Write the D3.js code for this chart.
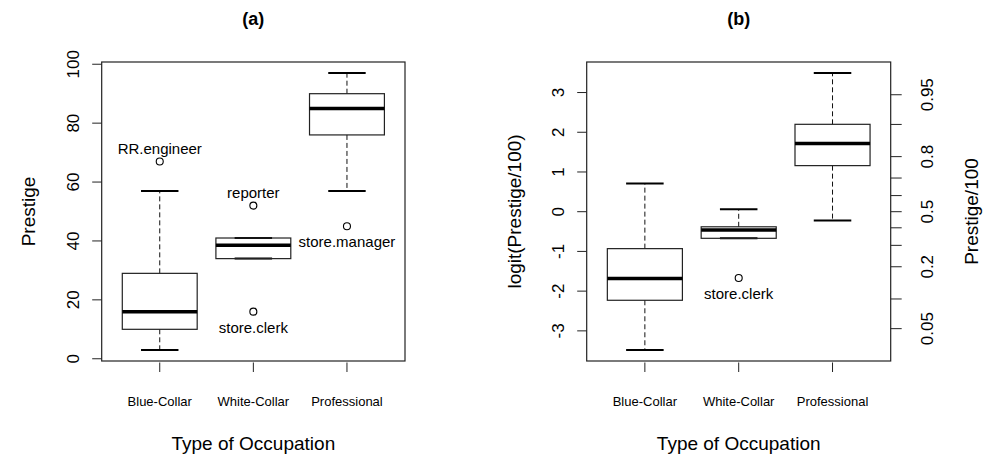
<!DOCTYPE html>
<html>
<head>
<meta charset="utf-8">
<script src="https://cdn.jsdelivr.net/npm/d3@7"></script>
<style>
  body { margin: 0; background: #fff; }
  text { font-family: "Liberation Sans", Arial, sans-serif; fill: #000; }
</style>
</head>
<body>
<svg id="chart"></svg>
<script>
var width = 993;
var height = 455;

var categories = ['Blue-Collar', 'White-Collar', 'Professional'];

// panel (a): Prestige
var prestigeLower = [3, 34, 57];
var prestigeQ1 = [10, 34, 76];
var prestigeMedian = [16, 38.5, 85];
var prestigeQ3 = [29, 41, 90];
var prestigeUpper = [57, 41, 97];
var prestigeOutliers = [
  {cat: 0, value: 67, label: 'RR.engineer', side: 'above'},
  {cat: 1, value: 52, label: 'reporter', side: 'above'},
  {cat: 1, value: 16, label: 'store.clerk', side: 'below'},
  {cat: 2, value: 45, label: 'store.manager', side: 'below'}
];
var prestigeTicks = [0, 20, 40, 60, 80, 100];

// panel (b): logit(Prestige/100)
var logitLower = [-3.48, -0.67, -0.22];
var logitQ1 = [-2.23, -0.67, 1.16];
var logitMedian = [-1.68, -0.46, 1.72];
var logitQ3 = [-0.93, -0.38, 2.20];
var logitUpper = [0.71, 0.06, 3.49];
var logitOutliers = [
  {cat: 1, value: -1.67, label: 'store.clerk', side: 'below'}
];
var logitTicks = [-3, -2, -1, 0, 1, 2, 3];
var probTicks = [0.05, 0.1, 0.2, 0.3, 0.4, 0.5, 0.6, 0.7, 0.8, 0.9, 0.95];
var probLabels = [0.05, 0.2, 0.5, 0.8, 0.95];

var boxwex = 0.8; // box width in category units
var staplewex = 0.4; // whisker cap width
var tickLen = 9.5;

var svg = d3.select('#chart')
  .attr('width', width)
  .attr('height', height);

function logit(p) { return Math.log(p / (1 - p)); }

function drawPanel(opt) {
  var g = svg.append('g');
  var all = opt.lower.concat(opt.upper, opt.outliers.map(function(d) { return d.value; }));
  var ext = d3.extent(all);
  var pad = (ext[1] - ext[0]) * 0.04;

  var x = d3.scaleLinear()
    .domain([0.38, 3.62])
    .range([opt.left, opt.left + opt.w]);
  var y = d3.scaleLinear()
    .domain([ext[0] - pad, ext[1] + pad])
    .range([opt.top + opt.h, opt.top]);

  var idx = d3.range(categories.length);
  var half = x(1 + boxwex / 2) - x(1);
  var shalf = x(1 + staplewex / 2) - x(1);

  // whiskers (dashed)
  g.selectAll('line.wlow')
    .data(idx).enter().append('line')
    .attr('x1', function(i) { return x(i + 1); })
    .attr('x2', function(i) { return x(i + 1); })
    .attr('y1', function(i) { return y(opt.q1[i]); })
    .attr('y2', function(i) { return y(opt.lower[i]); })
    .attr('stroke', '#111').attr('stroke-dasharray', '5,3');
  g.selectAll('line.whigh')
    .data(idx).enter().append('line')
    .attr('x1', function(i) { return x(i + 1); })
    .attr('x2', function(i) { return x(i + 1); })
    .attr('y1', function(i) { return y(opt.q3[i]); })
    .attr('y2', function(i) { return y(opt.upper[i]); })
    .attr('stroke', '#111').attr('stroke-dasharray', '5,3');

  // staples
  [opt.lower, opt.upper].forEach(function(arr) {
    g.selectAll(null)
      .data(idx).enter().append('line')
      .attr('x1', function(i) { return x(i + 1) - shalf; })
      .attr('x2', function(i) { return x(i + 1) + shalf; })
      .attr('y1', function(i) { return y(arr[i]); })
      .attr('y2', function(i) { return y(arr[i]); })
      .attr('stroke', '#000').attr('stroke-width', 2);
  });

  // boxes
  g.selectAll('rect.box')
    .data(idx).enter().append('rect')
    .attr('x', function(i) { return x(i + 1) - half; })
    .attr('width', half * 2)
    .attr('y', function(i) { return y(opt.q3[i]); })
    .attr('height', function(i) { return y(opt.q1[i]) - y(opt.q3[i]); })
    .attr('fill', 'none').attr('stroke', '#222').attr('stroke-width', 1.2);

  // medians
  g.selectAll('line.med')
    .data(idx).enter().append('line')
    .attr('x1', function(i) { return x(i + 1) - half; })
    .attr('x2', function(i) { return x(i + 1) + half; })
    .attr('y1', function(i) { return y(opt.median[i]); })
    .attr('y2', function(i) { return y(opt.median[i]); })
    .attr('stroke', '#000').attr('stroke-width', 3.5);

  // outliers
  g.selectAll('circle.out')
    .data(opt.outliers).enter().append('circle')
    .attr('cx', function(d) { return x(d.cat + 1); })
    .attr('cy', function(d) { return y(d.value); })
    .attr('r', 3.5)
    .attr('fill', 'none').attr('stroke', '#000').attr('stroke-width', 1.1);

  g.selectAll('text.outlab')
    .data(opt.outliers).enter().append('text')
    .attr('x', function(d) { return x(d.cat + 1); })
    .attr('y', function(d) { return y(d.value) + (d.side === 'above' ? -12.5 : 16); })
    .attr('dy', '0.35em')
    .attr('text-anchor', 'middle')
    .style('font-size', '15px')
    .text(function(d) { return d.label; });

  // frame
  g.append('rect')
    .attr('x', opt.left).attr('y', opt.top)
    .attr('width', opt.w).attr('height', opt.h)
    .attr('fill', 'none').attr('stroke', '#222').attr('stroke-width', 1.2);

  // left axis ticks
  var yt = g.append('g');
  yt.selectAll('line.t')
    .data(opt.ticks).enter().append('line')
    .attr('x1', opt.left - tickLen).attr('x2', opt.left)
    .attr('y1', function(d) { return y(d); })
    .attr('y2', function(d) { return y(d); })
    .attr('stroke', '#222');
  yt.selectAll('text')
    .data(opt.ticks).enter().append('text')
    .attr('transform', function(d) {
      return 'translate(' + (opt.left - 29) + ',' + y(d) + ') rotate(-90)';
    })
    .attr('dy', '0.35em')
    .attr('text-anchor', 'middle')
    .style('font-size', '17px')
    .text(function(d) { return d; });

  // bottom axis ticks
  var xt = g.append('g');
  xt.selectAll('line')
    .data(idx).enter().append('line')
    .attr('x1', function(i) { return x(i + 1); })
    .attr('x2', function(i) { return x(i + 1); })
    .attr('y1', opt.top + opt.h + 1.5)
    .attr('y2', opt.top + opt.h + 1.5 + tickLen)
    .attr('stroke', '#222');
  xt.selectAll('text')
    .data(idx).enter().append('text')
    .attr('x', function(i) { return x(i + 1); })
    .attr('y', 401)
    .attr('dy', '0.35em')
    .attr('text-anchor', 'middle')
    .style('font-size', '13px')
    .text(function(i) { return categories[i]; });

  var cx = opt.left + opt.w / 2;
  g.append('text')
    .attr('x', cx).attr('y', 19).attr('dy', '0.35em')
    .attr('text-anchor', 'middle')
    .style('font-size', '18px').style('font-weight', 'bold')
    .text(opt.title);
  g.append('text')
    .attr('x', cx).attr('y', 443).attr('dy', '0.35em')
    .attr('text-anchor', 'middle')
    .style('font-size', '19px')
    .text('Type of Occupation');
  g.append('text')
    .attr('transform', 'translate(' + opt.ylabX + ',' + (opt.top + opt.h / 2) + ') rotate(-90)')
    .attr('dy', '0.35em')
    .attr('text-anchor', 'middle')
    .style('font-size', '19px')
    .text(opt.ylab);

  return {x: x, y: y, g: g};
}

drawPanel({
  left: 101.7, top: 62, w: 303.3, h: 299,
  lower: prestigeLower, q1: prestigeQ1, median: prestigeMedian,
  q3: prestigeQ3, upper: prestigeUpper, outliers: prestigeOutliers,
  ticks: prestigeTicks, title: '(a)', ylab: 'Prestige', ylabX: 28
});

var pb = drawPanel({
  left: 586.7, top: 62, w: 304, h: 299,
  lower: logitLower, q1: logitQ1, median: logitMedian,
  q3: logitQ3, upper: logitUpper, outliers: logitOutliers,
  ticks: logitTicks, title: '(b)', ylab: 'logit(Prestige/100)', ylabX: 514
});

// right axis of panel (b): Prestige/100 on logit positions
var right = 586.7 + 304;
var ra = pb.g.append('g');
ra.selectAll('line.t')
  .data(probTicks).enter().append('line')
  .attr('x1', right).attr('x2', right + tickLen + 1.5)
  .attr('y1', function(d) { return pb.y(logit(d)); })
  .attr('y2', function(d) { return pb.y(logit(d)); })
  .attr('stroke', '#222');
ra.selectAll('text')
  .data(probLabels).enter().append('text')
  .attr('transform', function(d) {
    return 'translate(' + (right + 36) + ',' + pb.y(logit(d)) + ') rotate(-90)';
  })
  .attr('dy', '0.35em')
  .attr('text-anchor', 'middle')
  .style('font-size', '17px')
  .text(function(d) { return d; });
ra.append('text')
  .attr('transform', 'translate(971.7,' + (62 + 299 / 2) + ') rotate(-90)')
  .attr('dy', '0.35em')
  .attr('text-anchor', 'middle')
  .style('font-size', '19px')
  .text('Prestige/100');
</script>
</body>
</html>
